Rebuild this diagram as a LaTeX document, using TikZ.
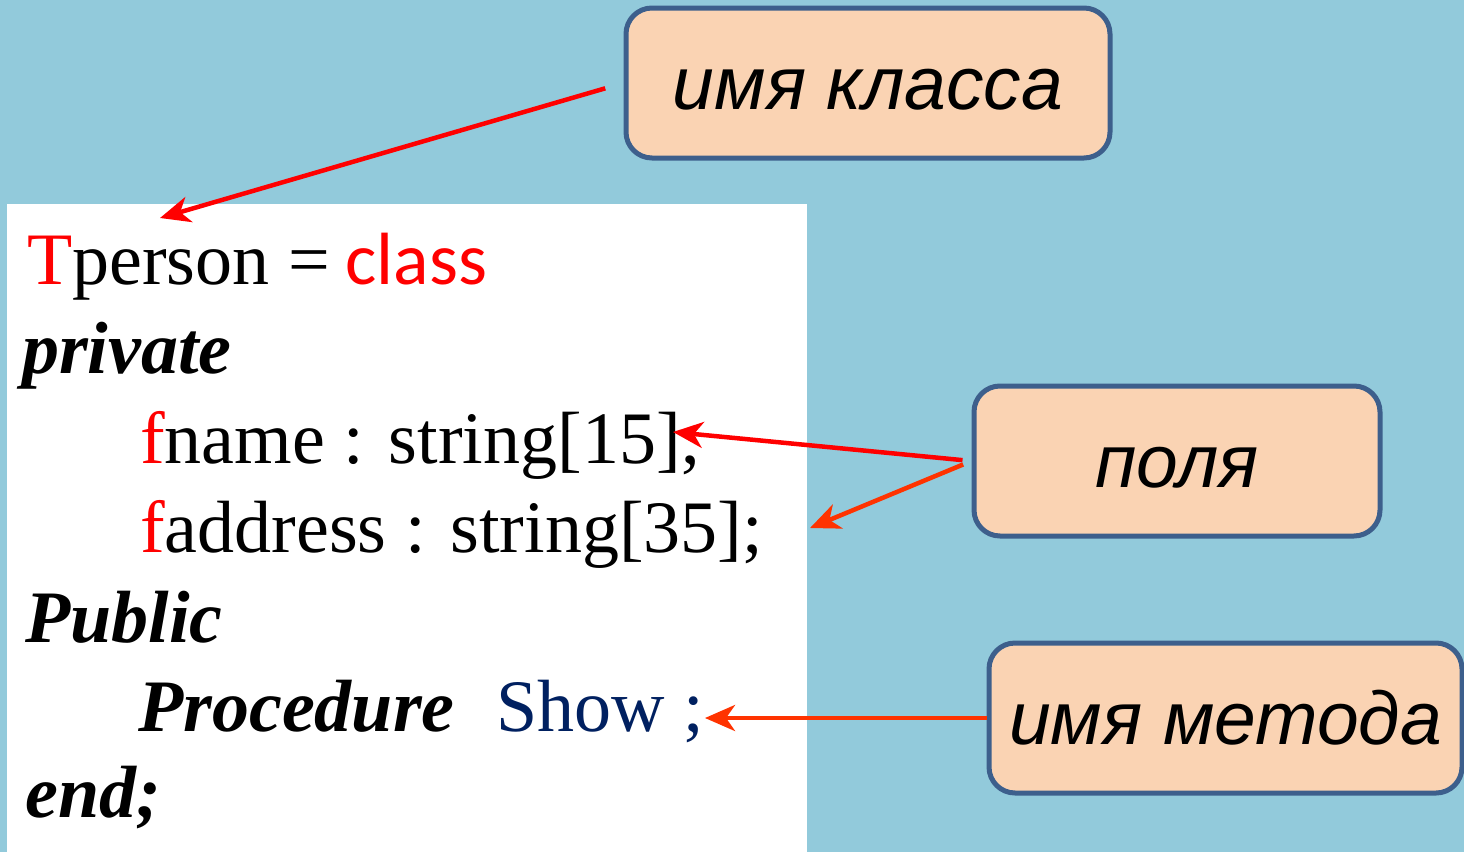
\documentclass[tikz,border=0pt]{standalone}
\usepackage{fontspec}
\setmainfont{Liberation Serif}
\newfontfamily\labelfont{Liberation Sans}
\newfontfamily\classfont{Carlito}
\usetikzlibrary{arrows.meta}

\newlength{\du}
\setlength{\du}{10\unitlength}

\definecolor{slidebg}{rgb}{0.572549, 0.792157, 0.858824}
\definecolor{boxfill}{rgb}{0.980392, 0.827451, 0.701961}
\definecolor{boxline}{rgb}{0.239216, 0.372549, 0.549020}
\definecolor{arrowred}{rgb}{1.000000, 0.000000, 0.000000}
\definecolor{arroworange}{rgb}{1.000000, 0.200000, 0.000000}
\definecolor{showblue}{rgb}{0.000000, 0.125490, 0.376471}

\begin{document}
\begin{tikzpicture}[
  codeline/.style={anchor=base west, inner sep=0pt, font=\fontsize{74}{88}\selectfont},
  notebox/.style={draw=boxline, fill=boxfill, line width=5pt, rounded corners=26pt,
    minimum height=150pt, inner sep=0pt, text height=52pt, text depth=0pt,
    font=\labelfont\itshape\fontsize{75}{90}\selectfont},
  pointer/.style={line width=4.5pt, -{Stealth[length=30pt,width=26pt,inset=9pt]}}
]
\pgftransformxscale{1.000000}
\pgftransformyscale{-1.000000}
% background of the slide
\useasboundingbox (0.000000\du,0.000000\du) rectangle (146.400000\du,85.200000\du);
\fill[slidebg] (0.000000\du,0.000000\du) rectangle (146.400000\du,85.200000\du);
\fill[white] (0.700000\du,20.400000\du) rectangle (80.700000\du,85.200000\du);
% code text
\node[codeline] (lnclass) at (2.700000\du,28.400000\du){{\color{red}T}person =\hspace{-3pt} {\classfont\color{red}class}};
\node[codeline] (lnprivate) at (2.200000\du,37.300000\du){\bfseries\itshape private};
\node[codeline] (lnfname) at (14.000000\du,46.300000\du){{\color{red}f}name : string[15];};
\node[codeline] (lnfaddr) at (14.000000\du,55.200000\du){{\color{red}f}address : string[35];};
\node[codeline] (lnpublic) at (2.500000\du,64.200000\du){\bfseries\itshape Public};
\node[codeline] (lnproc) at (13.800000\du,73.100000\du){\bfseries\itshape Procedure};
\node[codeline,text=showblue] (lnshow) at (49.600000\du,73.100000\du){Show ;};
\node[codeline] (lnend) at (2.500000\du,81.700000\du){\bfseries\itshape end;};
% boxes
\node[notebox,minimum width=484pt] (clsbox) at (86.800000\du,8.300000\du){имя класса};
\node[notebox,minimum width=406pt] (fldbox) at (117.700000\du,46.100000\du){поля};
\node[notebox,minimum width=473pt] (mthbox) at (122.550000\du,71.800000\du){имя метода};
% arrow tips
\coordinate (tipcls) at (16.000000\du,21.800000\du);
\coordinate (tipfname) at (67.300000\du,43.200000\du);
\coordinate (tipfaddr) at (81.000000\du,52.800000\du);
\coordinate (tipshow) at (70.500000\du,71.800000\du);
% arrows
\draw[pointer,arrowred,shorten <=19pt] (clsbox.west) -- (tipcls);
\draw[pointer,arrowred,shorten <=9pt] (fldbox.west) -- (tipfname);
\draw[pointer,arroworange,shorten <=9pt] (fldbox.west) -- (tipfaddr);
\draw[pointer,arroworange] (mthbox.west) -- (tipshow);
\end{tikzpicture}
\end{document}
